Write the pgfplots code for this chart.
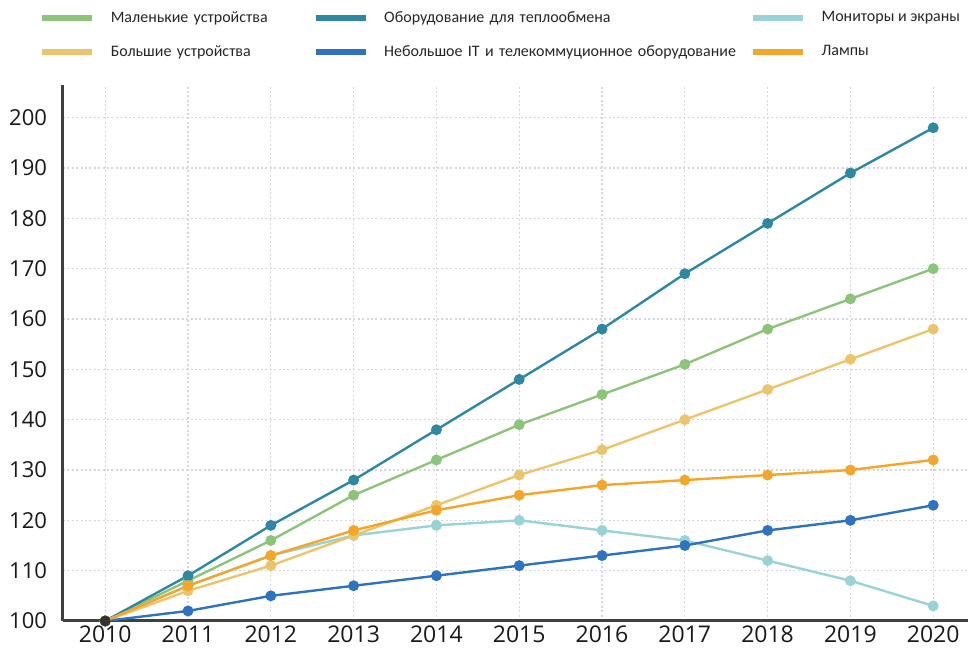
\documentclass[border=0pt]{standalone}
\usepackage{pgfplots}
\pgfplotsset{compat=1.18}
\usepackage{fontspec}
\setmainfont{Carlito}
\newfontfamily\tickfont{Open Sans}

\definecolor{cSmall}{HTML}{8DC47B}
\definecolor{cHeat}{HTML}{2F88A2}
\definecolor{cMon}{HTML}{9AD3D6}
\definecolor{cLarge}{HTML}{EBC46E}
\definecolor{cIT}{HTML}{2F72BF}
\definecolor{cLamp}{HTML}{F4A62A}
\definecolor{axisgray}{HTML}{404040}
\definecolor{gridgray}{HTML}{D4D8DE}

\begin{document}
\begin{tikzpicture}
\useasboundingbox (-31.5pt,-15.5pt) rectangle (452.5pt,310.5pt);
\begin{axis}[
  scale only axis, width=452.5pt, height=268pt,
  xmin=2009.49, xmax=2020.42, ymin=100, ymax=206.5,
  xtick={2010,...,2020}, ytick={100,110,...,200},
  axis x line*=bottom, axis y line*=left,
  axis line style={draw=axisgray, line width=1.5pt},
  major tick length=0pt,
  grid=major,
  grid style={gridgray, line width=0.6pt, dash pattern=on 1pt off 1.2pt},
  ticklabel style={text=black!90},
  xticklabel style={font=\tickfont\fontsize{11.5}{13}\selectfont, inner ysep=2pt},
  yticklabel style={font=\tickfont\fontsize{11}{13}\selectfont, xshift=-4.5pt},
  /pgf/number format/assume math mode=true,
  /pgf/number format/1000 sep={},
  every axis plot/.append style={line width=1.2pt, mark=*, mark size=2.1pt},
  legend columns=3,
  legend image code/.code={\draw[line width=3pt, line cap=butt] (0pt,0pt) -- (25pt,0pt);},
  legend style={
    at={(axis description cs:-0.0265,1.1455)}, anchor=north west,
    draw=none, fill=none, inner sep=0pt,
    font=\fontsize{8}{10}\selectfont, text=black!85,
    row sep=6pt, column sep=0pt,
    /tikz/every odd column/.append style={column sep=5.7pt},
    /tikz/column 2/.style={nodes={text width=99pt}},
    /tikz/column 4/.style={nodes={text width=181pt}},
  },
  legend cell align=left,
]
% Маленькие устройства
\addplot[color=cSmall] coordinates {
  (2010,100) (2011,108) (2012,116) (2013,125) (2014,132) (2015,139)
  (2016,145) (2017,151) (2018,158) (2019,164) (2020,170)};
\addlegendentry{Маленькие устройства}
% Оборудование для теплообмена
\addplot[color=cHeat] coordinates {
  (2010,100) (2011,109) (2012,119) (2013,128) (2014,138) (2015,148)
  (2016,158) (2017,169) (2018,179) (2019,189) (2020,198)};
\addlegendentry{Оборудование для теплообмена}
% Мониторы и экраны
\addplot[color=cMon] coordinates {
  (2010,100) (2011,107) (2012,113) (2013,117) (2014,119) (2015,120)
  (2016,118) (2017,116) (2018,112) (2019,108) (2020,103)};
\addlegendentry{Мониторы и экраны}
% Большие устройства
\addplot[color=cLarge] coordinates {
  (2010,100) (2011,106) (2012,111) (2013,117) (2014,123) (2015,129)
  (2016,134) (2017,140) (2018,146) (2019,152) (2020,158)};
\addlegendentry{Большие устройства}
% Небольшое IT и телекоммуционное оборудование
\addplot[color=cIT] coordinates {
  (2010,100) (2011,102) (2012,105) (2013,107) (2014,109) (2015,111)
  (2016,113) (2017,115) (2018,118) (2019,120) (2020,123)};
\addlegendentry{Небольшое IT и телекоммуционное оборудование}
% Лампы
\addplot[color=cLamp] coordinates {
  (2010,100) (2011,107) (2012,113) (2013,118) (2014,122) (2015,125)
  (2016,127) (2017,128) (2018,129) (2019,130) (2020,132)};
\addlegendentry{Лампы}
% common start point
\addplot[only marks, color=black!80, forget plot] coordinates {(2010,100)};
\end{axis}
\end{tikzpicture}
\end{document}
